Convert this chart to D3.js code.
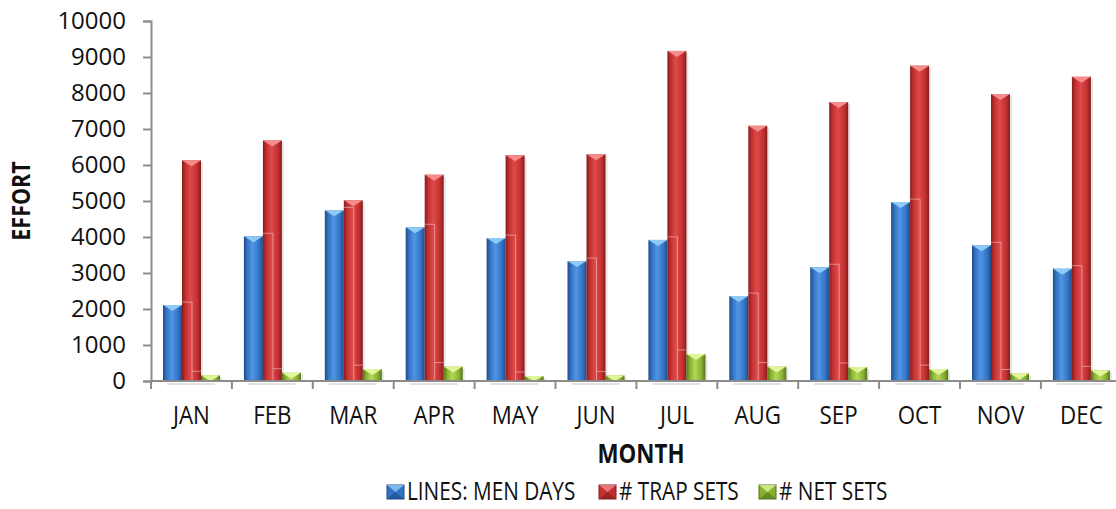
<!DOCTYPE html>
<html>
<head>
<meta charset="utf-8">
<script src="https://cdn.jsdelivr.net/npm/d3@7"></script>
<style>
  body { margin: 0; background: #fff; }
  svg { display: block; }
  text { font-family: "Open Sans", "Noto Sans", sans-serif; fill: #111; }
</style>
</head>
<body>
<svg id="chart"></svg>
<script>
var months = ["JAN", "FEB", "MAR", "APR", "MAY", "JUN", "JUL", "AUG", "SEP", "OCT", "NOV", "DEC"];
var menDays = [2110, 4020, 4740, 4270, 3970, 3330, 3920, 2360, 3160, 4970, 3770, 3120];
var trapSets = [6130, 6680, 5020, 5730, 6270, 6300, 9170, 7090, 7750, 8760, 7970, 8450];
var netSets = [160, 230, 330, 400, 140, 155, 750, 400, 390, 330, 210, 295];
var seriesNames = ["LINES: MEN DAYS", "# TRAP SETS", "# NET SETS"];
var yTicks = [0, 1000, 2000, 3000, 4000, 5000, 6000, 7000, 8000, 9000, 10000];

var width = 1116, height = 509;
var margin = { top: 21, left: 151, bottom: 128 };
var plotBottom = height - margin.bottom;
var condense = 0.86;

var svg = d3.select("#chart")
  .attr("width", width)
  .attr("height", height);

var colours = [
  { dark: "#1f4b88", mid: "#3373c4", light: "#5096e4", top: "#8fcaf6", id: "gBlue" },
  { dark: "#861c1c", mid: "#c23030", light: "#de4a4a", top: "#f58b8b", id: "gRed" },
  { dark: "#56731a", mid: "#88b030", light: "#b2d85a", top: "#e0f59a", id: "gGreen" }
];

var defs = svg.append("defs");
colours.forEach(function(c) {
  var g = defs.append("linearGradient")
    .attr("id", c.id)
    .attr("x1", 0).attr("x2", 1).attr("y1", 0).attr("y2", 0);
  g.append("stop").attr("offset", 0).attr("stop-color", c.dark);
  g.append("stop").attr("offset", 0.18).attr("stop-color", c.mid);
  g.append("stop").attr("offset", 0.45).attr("stop-color", c.light);
  g.append("stop").attr("offset", 0.8).attr("stop-color", c.mid);
  g.append("stop").attr("offset", 1).attr("stop-color", c.dark);
});

var x0 = d3.scaleBand()
  .domain(months)
  .range([margin.left, margin.left + 12 * 80.9]);

var x1 = d3.scaleBand()
  .domain(d3.range(3))
  .range([12, 69]);

var y = d3.scaleLinear()
  .domain([0, 10000])
  .range([plotBottom, margin.top]);

var table = months.map(function(m, i) {
  return { month: m, values: [menDays[i], trapSets[i], netSets[i]] };
});

// y axis
var yAxis = svg.append("g")
  .attr("transform", "translate(" + margin.left + ",0)")
  .call(d3.axisLeft(y).tickValues(yTicks).tickSize(8).tickPadding(17).tickFormat(d3.format("d")));
yAxis.select(".domain").attr("stroke", "#8c8c8c").attr("stroke-width", 2);
yAxis.selectAll(".tick line").attr("stroke", "#8c8c8c").attr("stroke-width", 2);
yAxis.selectAll(".tick text")
  .style("font-family", "'Open Sans', sans-serif")
  .style("font-size", "24px")
  .attr("fill", "#111");

// bars
var groups = svg.selectAll(".month")
  .data(table)
  .enter().append("g")
  .attr("class", "month")
  .attr("transform", function(d) { return "translate(" + x0(d.month) + ",0)"; });

var bw = x1.bandwidth();

groups.each(function(d) {
  var g = d3.select(this);
  // floor shadow
  g.append("line")
    .attr("x1", 16).attr("x2", 64)
    .attr("y1", y(0) + 3).attr("y2", y(0) + 3)
    .attr("stroke", "#e2e2e2").attr("stroke-width", 2);
  d.values.forEach(function(v, s) {
    var bx = x1(s), top = y(v), h = y(0) - y(v);
    g.append("rect")
      .attr("x", bx + 2).attr("y", top + 2)
      .attr("width", bw).attr("height", h - 2)
      .attr("fill", "#000").attr("opacity", 0.1);
    g.append("rect")
      .attr("x", bx).attr("y", top)
      .attr("width", bw).attr("height", h)
      .attr("fill", "url(#" + colours[s].id + ")");
    var th = Math.min(6, h);
    g.append("path")
      .attr("d", "M" + bx + "," + top + "L" + (bx + bw) + "," + top + "L" + (bx + bw / 2) + "," + (top + th) + "Z")
      .attr("fill", colours[s].top);
  });
  // hidden back edges of the 3D blocks
  var ex = x1(1) + 10;
  var bTop = y(d.values[0]) - 3;
  var gTop = y(d.values[2]) - 4;
  g.append("path")
    .attr("d", "M" + (x1(0) + bw) + "," + bTop + "L" + ex + "," + bTop + "L" + ex + "," + y(0) +
      "M" + ex + "," + gTop + "L" + x1(2) + "," + gTop)
    .attr("fill", "none")
    .attr("stroke", "rgba(255,225,225,0.5)")
    .attr("stroke-width", 1);
});

// x axis
var xAxis = svg.append("g");
xAxis.append("line")
  .attr("x1", margin.left).attr("x2", width)
  .attr("y1", plotBottom).attr("y2", plotBottom)
  .attr("stroke", "#8c8c8c").attr("stroke-width", 2);
xAxis.selectAll(".xtick")
  .data(months)
  .enter().append("line")
  .attr("class", "xtick")
  .attr("x1", function(d) { return x0(d); })
  .attr("x2", function(d) { return x0(d); })
  .attr("y1", plotBottom).attr("y2", plotBottom + 8)
  .attr("stroke", "#8c8c8c").attr("stroke-width", 2);
xAxis.selectAll(".xlabel")
  .data(months)
  .enter().append("text")
  .attr("class", "xlabel")
  .attr("transform", function(d) {
    return "translate(" + (x0(d) + x0.bandwidth() / 2) + "," + (plotBottom + 43) + ") scale(" + condense + ",1)";
  })
  .style("font-size", "26px")
  .style("text-anchor", "middle")
  .text(function(d) { return d; });

// axis titles
svg.append("text")
  .attr("transform", "translate(641," + 463 + ") scale(" + condense + ",1)")
  .style("font-size", "26px")
  .style("font-weight", "bold")
  .style("text-anchor", "middle")
  .text("MONTH");

svg.append("text")
  .attr("transform", "translate(30,201) rotate(-90) scale(" + condense + ",1)")
  .style("font-size", "25px")
  .style("font-weight", "bold")
  .style("text-anchor", "middle")
  .text("EFFORT");

// legend
var legendX = [387, 599, 759];
var legend = svg.selectAll(".legend")
  .data(seriesNames)
  .enter().append("g")
  .attr("class", "legend")
  .attr("transform", function(d, i) { return "translate(" + legendX[i] + ",485)"; });

legend.append("rect")
  .attr("width", 17).attr("height", 14)
  .attr("fill", function(d, i) { return colours[i].mid; })
  .attr("stroke", function(d, i) { return colours[i].dark; })
  .attr("stroke-width", 1);
legend.append("path")
  .attr("d", "M0,0L17,0L8.5,7Z")
  .attr("fill", function(d, i) { return colours[i].top; })
  .attr("opacity", 0.8);
legend.append("path")
  .attr("d", "M0,14L17,14L8.5,7Z")
  .attr("fill", function(d, i) { return colours[i].dark; })
  .attr("opacity", 0.6);

legend.append("text")
  .attr("transform", "translate(20,15) scale(0.83,1)")
  .style("font-size", "25px")
  .text(function(d) { return d; });
</script>
</body>
</html>
